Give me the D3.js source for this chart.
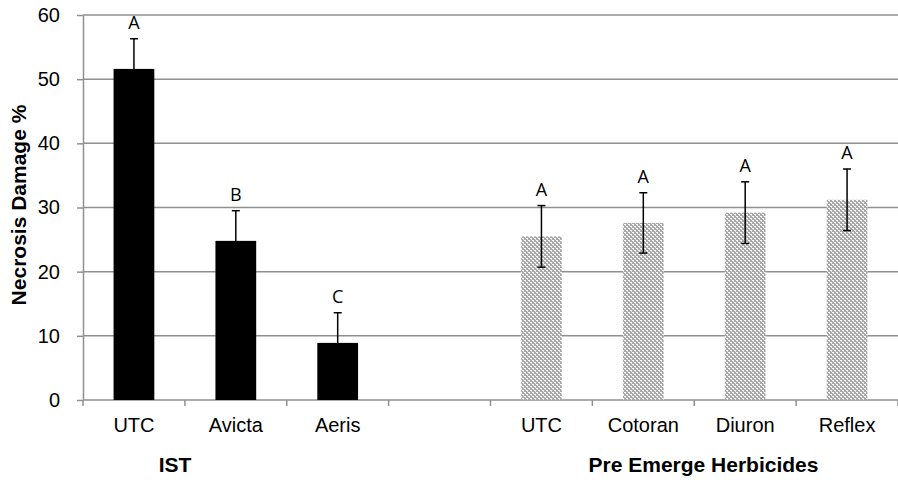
<!DOCTYPE html>
<html><head><meta charset="utf-8">
<script src="https://cdn.jsdelivr.net/npm/d3@7"></script>
<style>body{margin:0;background:#fff}</style>
</head><body>
<script>
const categories = ["UTC","Avicta","Aeris","","UTC","Cotoran","Diuron","Reflex"];
const values = [51.6, 24.8, 8.9, null, 25.5, 27.6, 29.2, 31.2];
const errors = [4.7, 4.7, 4.7, null, 4.8, 4.7, 4.8, 4.8];
const letters = ["A","B","C","","A","A","A","A"];
const groupType = ["IST","IST","IST","","PRE","PRE","PRE","PRE"];
const yTicks = [0,10,20,30,40,50,60];
const groupLabels = ["IST","Pre Emerge Herbicides"];

(function(){
const W=898,H=480;
const svg=d3.select("body").append("svg").attr("width",W).attr("height",H);
const defs=svg.append("defs");
const pat=defs.append("pattern").attr("id","dots").attr("patternUnits","userSpaceOnUse").attr("width",4).attr("height",4);
pat.append("rect").attr("width",4).attr("height",4).attr("fill","#a8a8a8");
pat.append("rect").attr("x",0).attr("y",0).attr("width",2).attr("height",1).attr("fill","#fff");
pat.append("rect").attr("x",2).attr("y",2).attr("width",2).attr("height",1).attr("fill","#fff");
pat.append("rect").attr("x",1).attr("y",1).attr("width",1).attr("height",1).attr("fill","#e0e0e0");
pat.append("rect").attr("x",3).attr("y",3).attr("width",1).attr("height",1).attr("fill","#e0e0e0");

const mLeft=83,mRight=898,mTop=15,mBottom=400;
const font="Liberation Sans, Arial, sans-serif";
const x=d3.scaleBand().domain(d3.range(categories.length)).range([mLeft,mRight]).paddingInner(0.6).paddingOuter(0.3);
const y=d3.scaleLinear().domain([0,60]).range([mBottom,mTop]);

// gridlines
svg.append("g").selectAll("line").data(yTicks.filter(d=>d>0)).join("line")
  .attr("x1",mLeft).attr("x2",mRight).attr("y1",d=>y(d)).attr("y2",d=>y(d))
  .attr("stroke","#909090").attr("stroke-width",1.5);

// y axis
const ya=svg.append("g").attr("transform",`translate(${mLeft},0)`)
  .call(d3.axisLeft(y).tickValues(yTicks).tickSize(6).tickPadding(17).tickSizeOuter(0));
ya.select(".domain").attr("stroke","#909090").attr("stroke-width",1.5);
ya.selectAll(".tick line").attr("stroke","#909090").attr("stroke-width",1.5);
ya.selectAll(".tick text").attr("font-family",font).attr("font-size",20).attr("fill","#000");

// x axis
const step=(mRight-mLeft)/categories.length;
const xa=svg.append("g").attr("transform",`translate(0,${mBottom})`);
xa.append("line").attr("x1",mLeft).attr("x2",mRight).attr("stroke","#909090").attr("stroke-width",1.5);
xa.selectAll(".tk").data(d3.range(categories.length+1)).join("line").attr("class","tk")
  .attr("x1",i=>mLeft+i*step).attr("x2",i=>mLeft+i*step).attr("y1",0).attr("y2",6)
  .attr("stroke","#909090").attr("stroke-width",1.5);
xa.selectAll("text").data(categories).join("text")
  .attr("x",(d,i)=>x(i)+x.bandwidth()/2).attr("y",32)
  .attr("text-anchor","middle").attr("font-family",font).attr("font-size",20)
  .text(d=>d);

// bars
const data=categories.map((c,i)=>({i,c,v:values[i],e:errors[i],l:letters[i],g:groupType[i]})).filter(d=>d.v!=null);
svg.append("g").selectAll("rect").data(data).join("rect")
  .attr("x",d=>x(d.i)).attr("width",x.bandwidth())
  .attr("y",d=>y(d.v)).attr("height",d=>y(0)-y(d.v))
  .attr("fill",d=>d.g==="IST"?"#000":"url(#dots)");

// error bars
const eb=svg.append("g").attr("stroke","#000").attr("stroke-width",1.5);
data.forEach(d=>{
  const cx=x(d.i)+x.bandwidth()/2;
  eb.append("line").attr("x1",cx).attr("x2",cx).attr("y1",y(d.v-d.e)).attr("y2",y(d.v+d.e));
  eb.append("line").attr("x1",cx-4).attr("x2",cx+4).attr("y1",y(d.v+d.e)).attr("y2",y(d.v+d.e));
  eb.append("line").attr("x1",cx-4).attr("x2",cx+4).attr("y1",y(d.v-d.e)).attr("y2",y(d.v-d.e));
});

// letters
svg.append("g").selectAll("text").data(data).join("text")
  .attr("x",d=>x(d.i)+x.bandwidth()/2).attr("y",d=>y(d.v+d.e)-10)
  .attr("text-anchor","middle").attr("font-family","Open Sans, DejaVu Sans, sans-serif").attr("font-size",18)
  .text(d=>d.l);

// group labels
svg.append("text").attr("x",175).attr("y",472).attr("text-anchor","middle")
  .attr("font-family",font).attr("font-weight","bold").attr("font-size",21).text(groupLabels[0]);
svg.append("text").attr("x",703.5).attr("y",472).attr("text-anchor","middle")
  .attr("font-family",font).attr("font-weight","bold").attr("font-size",21).text(groupLabels[1]);

// y title
svg.append("text").attr("transform","translate(26,205) rotate(-90)").attr("text-anchor","middle")
  .attr("font-family",font).attr("font-weight","bold").attr("font-size",21)
  .text("Necrosis Damage %");
})();
</script>
</body></html>
